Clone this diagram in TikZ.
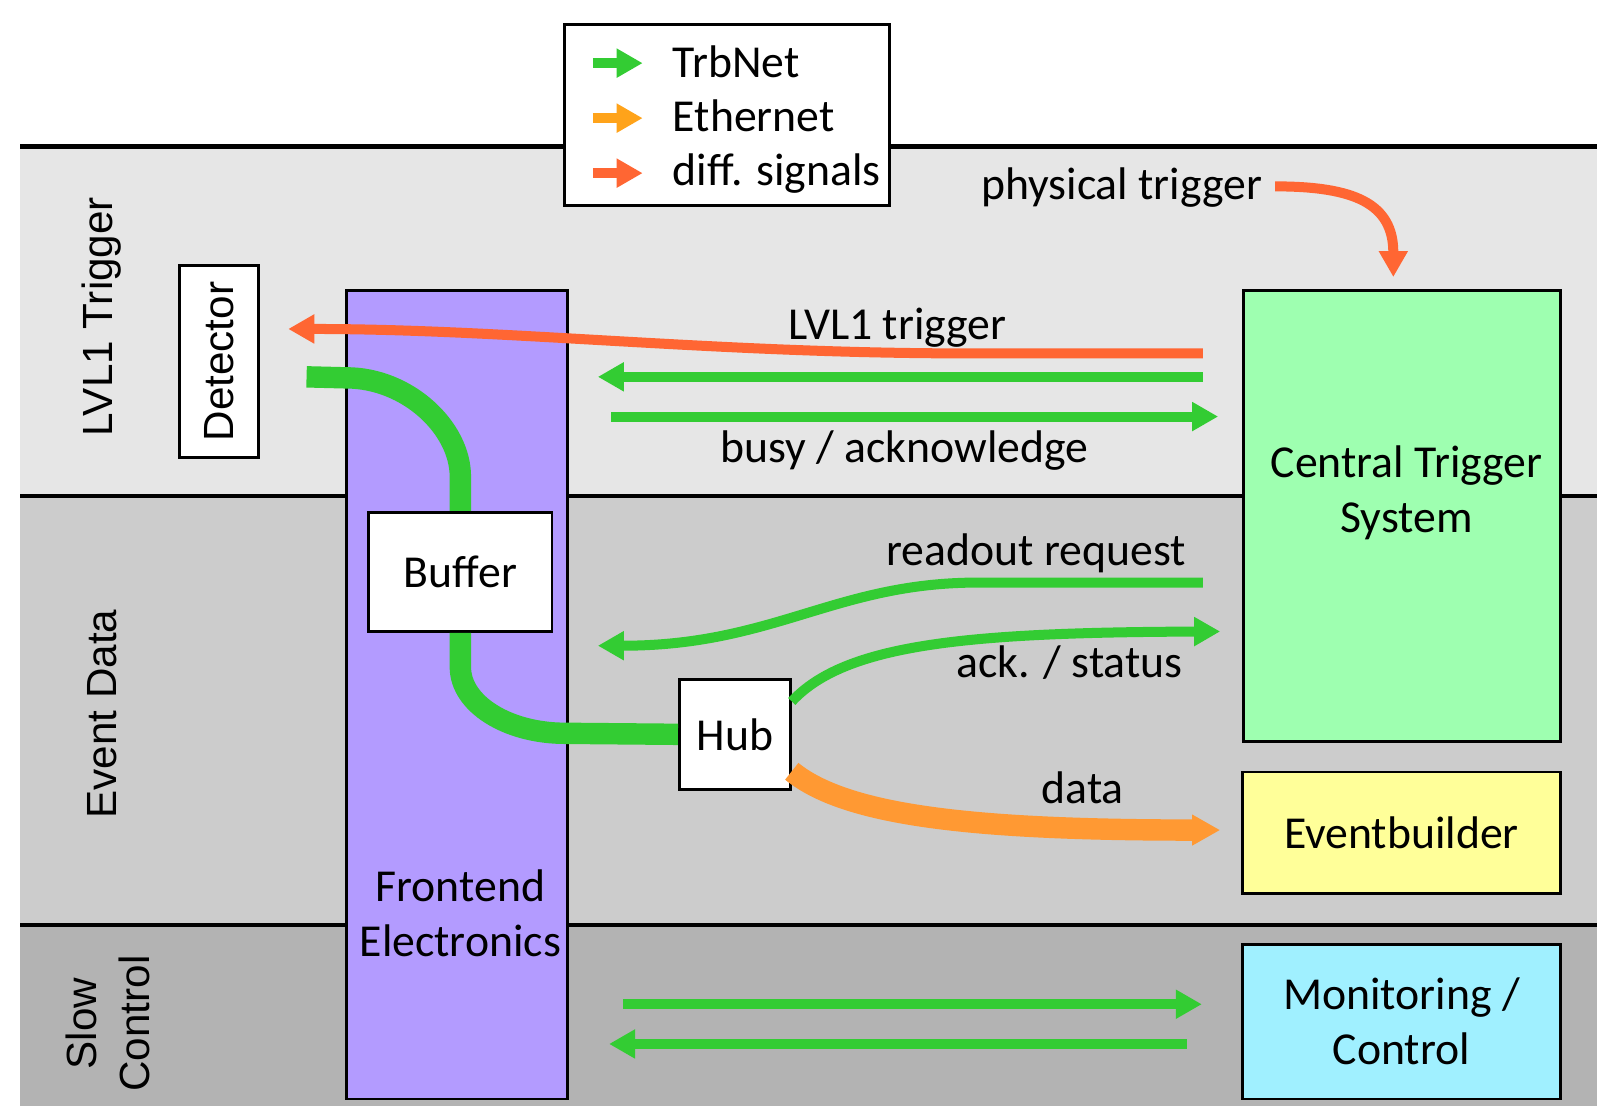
\documentclass[tikz,border=0pt]{standalone}
\usepackage{fontspec}
\setmainfont{Carlito}
\newfontfamily\sidefont{Liberation Sans}
\usetikzlibrary{arrows.meta}

\definecolor{trbgreen}{HTML}{33CC33}
\definecolor{ethorange}{HTML}{FFA31A}
\definecolor{dataorange}{HTML}{FF9933}
\definecolor{diffred}{HTML}{FF6633}
\definecolor{bandlight}{HTML}{E6E6E6}
\definecolor{bandmid}{HTML}{CCCCCC}
\definecolor{banddark}{HTML}{B3B3B3}
\definecolor{feviolet}{HTML}{B39BFF}
\definecolor{ctsgreen}{HTML}{9EFFB0}
\definecolor{evbyellow}{HTML}{FFFF99}
\definecolor{moncyan}{HTML}{A0F0FF}

\def\unitpx{0.010185cm}

\tikzset{
	blk/.style={draw=black, line width=0.8pt, inner sep=0pt, align=center, font=\fontsize{13}{15.6}\selectfont},
	lbl/.style={font=\fontsize{13}{15.6}\selectfont, align=center, inner sep=0pt},
	side/.style={font=\sidefont\fontsize{12}{15.3}\selectfont, rotate=90, align=center, inner sep=0pt},
	sig/.style={line width=0.1cm, -{Triangle[width=0.275cm,length=0.26cm]}},
	fatline/.style={line width=0.214cm, trbgreen},
	datarrow/.style={line width=0.214cm, dataorange, -{Triangle[width=0.29cm,length=0.28cm]}},
	bandline/.style={line width=1.3pt}
}

\begin{document}
\begin{tikzpicture}[x=\unitpx, y=-\unitpx]
		%%%%% START %%%%%
		\useasboundingbox (0,0) rectangle (1568,1086);
		
		\fill[bandlight] (20,144) rectangle (1568,487);
		\fill[bandmid] (20,487) rectangle (1568,908);
		\fill[banddark] (20,908) rectangle (1568,1086);
		\draw[bandline] (20,144) -- (1568,144);
		\draw[bandline] (20,487) -- (1568,487);
		\draw[bandline] (20,908) -- (1568,908);
		
		% legend
		\node[blk, fill=white, minimum width={319*\unitpx}, minimum height={178*\unitpx}] (legend) at (713.5,113) {};
		\draw[sig, trbgreen] (582,62) -- (631,62);
		\draw[sig, ethorange] (582,116) -- (631,116);
		\draw[sig, diffred] (582,170) -- (631,170);
		\node[lbl, anchor=base west] (ltrb) at (660,76) {TrbNet};
		\node[lbl, anchor=base west] (leth) at (660,129) {Ethernet};
		\node[lbl, anchor=base west] (ldiff) at (660,182) {diff. signals};
		
		% bands
		\node[side] (lvlband) at (100,311) {LVL1 Trigger};
		\node[side] (evband) at (100,701) {Event Data};
		\node[side] (scband) at (106,1005) {Slow\\Control};
		
		% blocks
		\node[blk, fill=white, rotate=90, font=\sidefont\fontsize{12}{14}\selectfont, minimum width={188*\unitpx}, minimum height={78*\unitpx}] (detector) at (215,355) {Detector};
		\node[blk, fill=feviolet, minimum width={217*\unitpx}, minimum height={794*\unitpx}] (frontend) at (448.5,682) {};
		\node[lbl] (fetext) at (452,897) {Frontend\\Electronics};
		\node[blk, fill=white, minimum width={180*\unitpx}, minimum height={117*\unitpx}] (buffer) at (452,561.5) {Buffer};
		\node[blk, fill=white, minimum width={109*\unitpx}, minimum height={108*\unitpx}] (hub) at (721.5,721) {Hub};
		\node[blk, fill=ctsgreen, minimum width={311*\unitpx}, minimum height={443*\unitpx}] (cts) at (1376.5,506.5) {};
		\node[lbl] (ctstext) at (1381,484) {Central Trigger\\System};
		\node[blk, fill=evbyellow, minimum width={312*\unitpx}, minimum height={119*\unitpx}] (evb) at (1376,817.5) {Eventbuilder};
		\node[blk, fill=moncyan, minimum width={312*\unitpx}, minimum height={152*\unitpx}] (monctl) at (1376,1003) {Monitoring /\\Control};
		
		% free ends
		\coordinate (ptrigout) at (1252,183);
		\coordinate (ptrigin) at (1368,272);
		\coordinate (detout) at (301,370);
		\coordinate (l1src) at (1181,347);
		\coordinate (l1dst) at (283,323);
		\coordinate (fbsrc) at (1181,370);
		\coordinate (fbdst) at (587,370);
		\coordinate (busysrc) at (600,409);
		\coordinate (busydst) at (1196,409);
		\coordinate (rosrc) at (1181,572);
		\coordinate (rodst) at (587,634);
		\coordinate (ackdst) at (1198,620);
		\coordinate (datadst) at (1198,815);
		\coordinate (scsrc) at (612,986);
		\coordinate (scdst) at (1180,986);
		\coordinate (scbsrc) at (1165,1025);
		\coordinate (scbdst) at (598,1025);
		
		% links
		\draw[fatline] (detout) -- (340,371) .. controls (400,371) and (452,420) .. (452,468) -- (buffer.north);
		\draw[fatline] (buffer.south) -- (452,655) .. controls (452,691) and (498,720) .. (555,720) -- (hub.west);
		\draw[sig, diffred] (ptrigout) .. controls (1330,183) and (1368,200) .. (ptrigin);
		\draw[sig, diffred] (l1src) -- (950,347) .. controls (700,347) and (500,323) .. (l1dst);
		\draw[sig, trbgreen] (fbsrc) -- (fbdst);
		\draw[sig, trbgreen] (busysrc) -- (busydst);
		\draw[sig, trbgreen] (rosrc) -- (960,572) .. controls (820,572) and (760,634) .. (rodst);
		\draw[sig, trbgreen] (hub.30) .. controls (830,632) and (950,621) .. (ackdst);
		\draw[datarrow] (hub.-33) .. controls (830,800) and (950,815) .. (datadst);
		\draw[sig, trbgreen] (scsrc) -- (scdst);
		\draw[sig, trbgreen] (scbsrc) -- (scbdst);
		
		% labels
		\node[lbl, anchor=base east] (ptrig) at (1240,196) {physical trigger};
		\node[lbl, anchor=base] (l1lbl) at (881,333) {LVL1 trigger};
		\node[lbl, anchor=base] (busylbl) at (888,454) {busy / acknowledge};
		\node[lbl, anchor=base east] (rolbl) at (1165,555) {readout request};
		\node[lbl, anchor=base] (acklbl) at (1050,665) {ack. / status};
		\node[lbl, anchor=base] (datalbl) at (1063,789) {data};
		
		%%%%% END %%%%%
	\end{tikzpicture}
\end{document}
